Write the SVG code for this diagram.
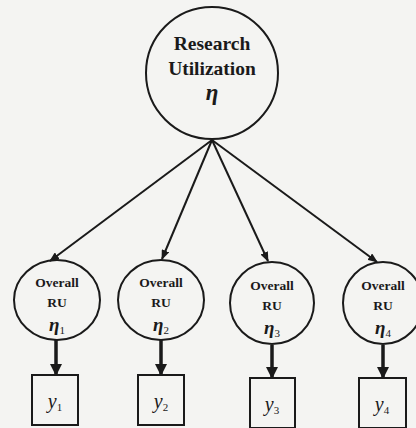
<svg xmlns="http://www.w3.org/2000/svg" width="416" height="428" viewBox="0 0 416 428">
  <style>
    .bg { fill: #f4f4f2; }
    .node { fill: none; stroke: #1a1a1a; stroke-width: 2; }
    .big { font-family: "Liberation Serif", "Times New Roman", serif; font-weight: bold; font-size: 19.5px; fill: #1a1a1a; text-anchor: middle; }
    .small { font-family: "Liberation Serif", "Times New Roman", serif; font-weight: bold; font-size: 13.5px; fill: #1a1a1a; text-anchor: middle; }
    .sym { font-family: "Liberation Serif", "Times New Roman", serif; font-style: italic; fill: #1a1a1a; text-anchor: middle; }
    .eta { font-weight: bold; }
    .sub { font-style: normal; font-weight: normal; font-size: 11px; }
    .thin { fill: none; stroke: #1a1a1a; stroke-width: 2; }
    .thick { fill: none; stroke: #1a1a1a; stroke-width: 3.5; }
  </style>
  <defs>
    <marker id="ah" markerWidth="10" markerHeight="8" refX="9" refY="4" orient="auto" markerUnits="userSpaceOnUse">
      <path d="M0,0 L10,4 L0,8 Z" fill="#1a1a1a"/>
    </marker>
    <marker id="ahb" markerWidth="12" markerHeight="12" refX="11" refY="6" orient="auto" markerUnits="userSpaceOnUse">
      <path d="M0,0 L12,6 L0,12 Z" fill="#1a1a1a"/>
    </marker>
  </defs>
  <rect class="bg" x="0" y="0" width="416" height="428"/>

  <g id="connectors">
    <line class="thin" x1="212" y1="140" x2="50" y2="261" marker-end="url(#ah)"/>
    <line class="thin" x1="212" y1="140" x2="162" y2="259" marker-end="url(#ah)"/>
    <line class="thin" x1="212" y1="140" x2="268" y2="261" marker-end="url(#ah)"/>
    <line class="thin" x1="212" y1="140" x2="377" y2="262" marker-end="url(#ah)"/>
    <line class="thick" x1="56" y1="340" x2="56" y2="375" marker-end="url(#ahb)"/>
    <line class="thick" x1="161" y1="340" x2="161" y2="375" marker-end="url(#ahb)"/>
    <line class="thick" x1="272" y1="345" x2="272" y2="378" marker-end="url(#ahb)"/>
    <line class="thick" x1="383" y1="345" x2="383" y2="378" marker-end="url(#ahb)"/>
  </g>

  <g id="research-utilization">
    <circle class="node" cx="212" cy="73" r="66"/>
    <text class="big" x="212" y="50">Research</text>
    <text class="big" x="212" y="75">Utilization</text>
    <text class="sym eta" x="212" y="100" font-size="23">η</text>
  </g>

  <g id="ru1">
    <ellipse class="node" cx="57" cy="300" rx="43" ry="40"/>
    <text class="small" x="57" y="287">Overall</text>
    <text class="small" x="57" y="307">RU</text>
    <text class="sym eta" x="57" y="331" font-size="19">η<tspan class="sub" dy="3">1</tspan></text>
  </g>
  <g id="ru2">
    <ellipse class="node" cx="161" cy="300" rx="43" ry="40"/>
    <text class="small" x="161" y="287">Overall</text>
    <text class="small" x="161" y="307">RU</text>
    <text class="sym eta" x="161" y="331" font-size="19">η<tspan class="sub" dy="3">2</tspan></text>
  </g>
  <g id="ru3">
    <ellipse class="node" cx="272" cy="303" rx="42" ry="41"/>
    <text class="small" x="272" y="290">Overall</text>
    <text class="small" x="272" y="310">RU</text>
    <text class="sym eta" x="272" y="334" font-size="19">η<tspan class="sub" dy="3">3</tspan></text>
  </g>
  <g id="ru4">
    <ellipse class="node" cx="383" cy="303" rx="40" ry="41"/>
    <text class="small" x="383" y="290">Overall</text>
    <text class="small" x="383" y="310">RU</text>
    <text class="sym eta" x="383" y="334" font-size="19">η<tspan class="sub" dy="3">4</tspan></text>
  </g>

  <g id="y1">
    <rect class="node" x="32" y="375" width="46" height="50"/>
    <text class="sym" x="55" y="408" font-size="20">y<tspan class="sub" dy="3">1</tspan></text>
  </g>
  <g id="y2">
    <rect class="node" x="138" y="375" width="46" height="50"/>
    <text class="sym" x="161" y="408" font-size="20">y<tspan class="sub" dy="3">2</tspan></text>
  </g>
  <g id="y3">
    <rect class="node" x="250" y="378" width="45" height="50"/>
    <text class="sym" x="272" y="411" font-size="20">y<tspan class="sub" dy="3">3</tspan></text>
  </g>
  <g id="y4">
    <rect class="node" x="359" y="378" width="47" height="50"/>
    <text class="sym" x="382" y="411" font-size="20">y<tspan class="sub" dy="3">4</tspan></text>
  </g>
</svg>
